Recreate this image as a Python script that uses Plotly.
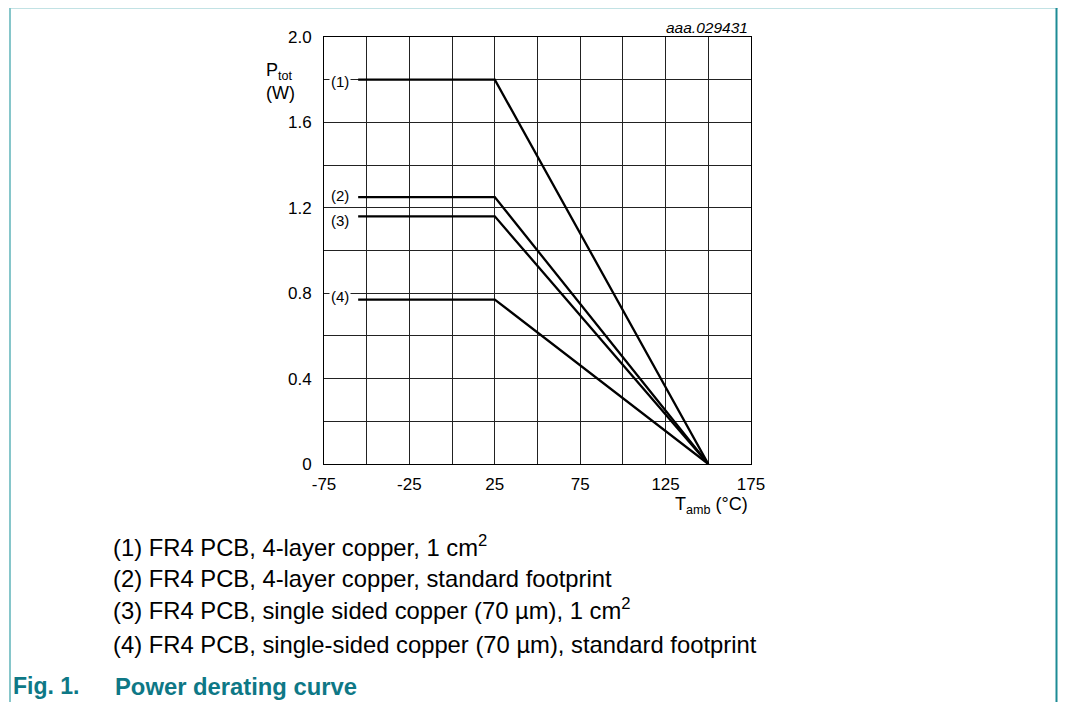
import plotly.graph_objects as go

# ---- data ----
curve_names = ["(1)", "(2)", "(3)", "(4)"]
temps = [-55, 25, 150]                       # T_amb breakpoints (°C)
p_1 = [1.80, 1.80, 0.0]
p_2 = [1.25, 1.25, 0.0]
p_3 = [1.16, 1.16, 0.0]
p_4 = [0.77, 0.77, 0.0]
series = [p_1, p_2, p_3, p_4]
label_y = [1.791, 1.256, 1.140, 0.785]       # y position of curve labels

x_ticks = [-75, -25, 25, 75, 125, 175]
x_ticktext = ["-75", "-25", "25", "75", "125", "175"]
y_ticks = [0, 0.4, 0.8, 1.2, 1.6, 2.0]
y_ticktext = ["0", "0.4", "0.8", "1.2", "1.6", "2.0"]

notes = [
    "(1) FR4 PCB, 4-layer copper, 1 cm<sup>2</sup>",
    "(2) FR4 PCB, 4-layer copper, standard footprint",
    "(3) FR4 PCB, single sided copper (70 µm), 1 cm<sup>2</sup>",
    "(4) FR4 PCB, single-sided copper (70 µm), standard footprint",
]
caption_num = "Fig. 1."
caption_text = "Power derating curve"
fig_id = "aaa.029431"

W, H = 1066, 702
OFF = 8   # page body margin
FONT = "Liberation Sans, Arial, sans-serif"
TEAL = "#0e7886"

def px(xp):
    return (xp - OFF) / W

def py(yp):
    return 1 - (yp - OFF) / H

fig = go.Figure()
for name, vals in zip(curve_names, series):
    fig.add_trace(go.Scatter(x=temps, y=vals, mode="lines", name=name,
                             line=dict(color="black", width=2.3),
                             showlegend=False, hoverinfo="skip"))

GRID = "#222222"
fig.update_layout(
    width=W, height=H,
    margin=dict(l=0, r=0, t=0, b=0, autoexpand=False),
    paper_bgcolor="white", plot_bgcolor="white",
    font=dict(family=FONT, color="black", size=17),
    showlegend=False,
    xaxis=dict(domain=[px(324), px(751)], range=[-75, 175],
               tickmode="array", tickvals=x_ticks, ticktext=x_ticktext,
               ticks="", showline=True, mirror=True, linecolor="black", linewidth=1,
               zeroline=False, gridcolor=GRID, gridwidth=1,
               minor=dict(dtick=25, tick0=-75, showgrid=True, gridcolor=GRID, gridwidth=1),
               tickfont=dict(size=17), ticklabelstandoff=5, automargin=False),
    yaxis=dict(domain=[py(464), py(37)], range=[0, 2.0],
               tickmode="array", tickvals=y_ticks, ticktext=y_ticktext,
               ticks="", showline=True, mirror=True, linecolor="black", linewidth=1,
               zeroline=False, gridcolor=GRID, gridwidth=1,
               minor=dict(dtick=0.2, tick0=0, showgrid=True, gridcolor=GRID, gridwidth=1),
               tickfont=dict(size=17), ticklabelstandoff=8, automargin=False),
)

ann = []
# curve labels
for name, ly in zip(curve_names, label_y):
    ann.append(dict(x=-65.8, y=ly, xref="x", yref="y", text=name, showarrow=False,
                    font=dict(size=15), bgcolor="white", borderpad=1,
                    xanchor="center", yanchor="middle"))
# axis titles
ann.append(dict(x=px(264), y=py(58), xref="paper", yref="paper",
                text="P<sub>tot</sub><br>(W)", showarrow=False, align="left",
                font=dict(size=18), xanchor="left", yanchor="top"))
ann.append(dict(x=px(750), y=py(492), xref="paper", yref="paper",
                text="T<sub>amb</sub> (°C)", showarrow=False,
                font=dict(size=18), xanchor="right", yanchor="top"))
# figure id
ann.append(dict(x=px(750), y=py(28), xref="paper", yref="paper",
                text="<i>" + fig_id + "</i>", showarrow=False,
                font=dict(size=15.5), xanchor="right", yanchor="middle"))
# notes
note_y = [546, 578, 609, 644]
for t, ny in zip(notes, note_y):
    ann.append(dict(x=px(111), y=py(ny), xref="paper", yref="paper", text=t,
                    showarrow=False, font=dict(size=23.8), xanchor="left", yanchor="middle"))
# caption
ann.append(dict(x=px(11), y=py(686), xref="paper", yref="paper",
                text="<b>" + caption_num + "</b>", showarrow=False,
                font=dict(size=23, color=TEAL), xanchor="left", yanchor="middle"))
ann.append(dict(x=px(113), y=py(686), xref="paper", yref="paper",
                text="<b>" + caption_text + "</b>", showarrow=False,
                font=dict(size=23.8, color=TEAL), xanchor="left", yanchor="middle"))
fig.update_layout(annotations=ann)

# frame lines
fig.add_shape(type="line", xref="paper", yref="paper", x0=px(10), x1=px(1064),
              y0=py(7.5), y1=py(7.5), line=dict(color="#86c6ca", width=2))
fig.add_shape(type="line", xref="paper", yref="paper", x0=px(10), x1=px(10),
              y0=py(7.5), y1=0, line=dict(color="#86c6ca", width=2))
fig.add_shape(type="line", xref="paper", yref="paper", x0=px(1056.5), x1=px(1056.5),
              y0=py(7.5), y1=0, line=dict(color="#1d8b95", width=2))

fig.write_html("out.html")
